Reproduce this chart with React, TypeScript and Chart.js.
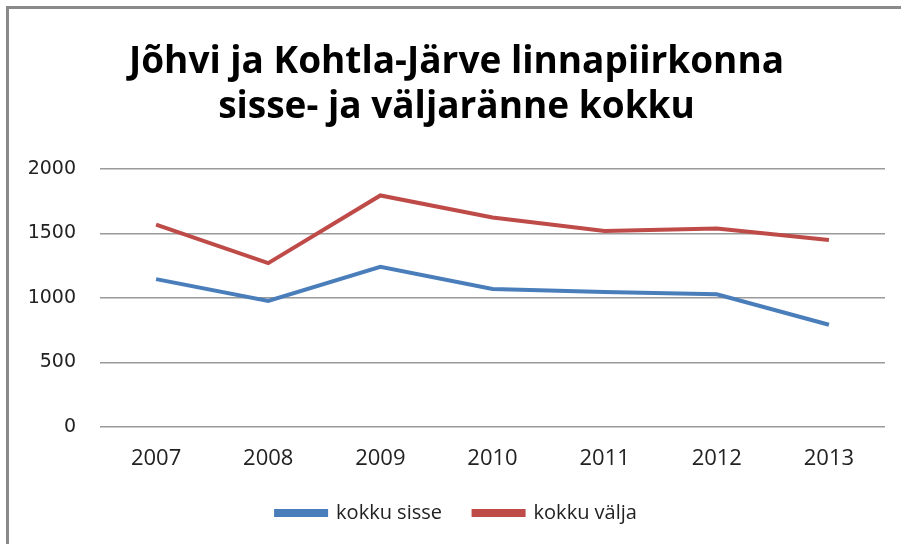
import React, { useEffect, useRef } from "react";
import { Chart, registerables } from "chart.js";

Chart.register(...registerables);

const years = ["2007", "2008", "2009", "2010", "2011", "2012", "2013"];
const kokkuSisse = [1146, 977, 1242, 1070, 1047, 1029, 793];
const kokkuValja = [1569, 1270, 1795, 1624, 1520, 1538, 1450];
const titleLines = ["Jõhvi ja Kohtla-Järve linnapiirkonna", "sisse- ja väljaränne kokku"];
const seriesNames = ["kokku sisse", "kokku välja"];

export default function App() {
  const ref = useRef<HTMLCanvasElement | null>(null);
  useEffect(() => {
    if (!ref.current) return;
    const chart = new Chart(ref.current, {
      type: "line",
      data: {
        labels: years,
        datasets: [
          {
            label: seriesNames[0],
            data: kokkuSisse,
            borderColor: "#4a7ebb",
            backgroundColor: "#4a7ebb",
            borderWidth: 4,
            pointRadius: 0,
            tension: 0,
          },
          {
            label: seriesNames[1],
            data: kokkuValja,
            borderColor: "#be4b48",
            backgroundColor: "#be4b48",
            borderWidth: 4,
            pointRadius: 0,
            tension: 0,
          },
        ],
      },
      options: {
        animation: false,
        responsive: false,
        maintainAspectRatio: false,
        layout: { padding: { left: 28, right: 16, top: 0, bottom: 11 } },
        plugins: {
          title: {
            display: true,
            text: titleLines,
            color: "#000",
            font: { family: "'Open Sans'", size: 37, weight: "bold", lineHeight: 1.216 },
            padding: { top: 39.5, bottom: 39.5 },
          },
          legend: {
            position: "bottom",
            labels: {
              boxWidth: 50,
              boxHeight: 4,
              padding: 31.6,
              color: "#222",
              font: { family: "'Open Sans'", size: 20 },
            },
          },
          tooltip: { enabled: false },
        },
        scales: {
          x: {
            offset: true,
            afterFit: (s: any) => {
              s.height = 44.4;
            },
            grid: { display: false, drawTicks: false },
            border: { display: false },
            ticks: {
              padding: 19,
              color: "#222",
              font: { family: "'Open Sans'", size: 22, lineHeight: 1.2 },
            },
          },
          y: {
            min: 0,
            max: 2000,
            afterFit: (s: any) => {
              s.width = 72;
            },
            grid: { color: "#9a9a9a", lineWidth: 1.5, drawTicks: false },
            border: { display: false },
            ticks: {
              stepSize: 500,
              padding: 24,
              color: "#222",
              font: { family: "'DejaVu Sans'", size: 19 },
              callback: (v: any) => String(v),
            },
          },
        },
      },
    });
    return () => chart.destroy();
  }, []);

  return (
    <div style={{ position: "absolute", left: 0, top: 0, width: 901, height: 544, background: "#fff", overflow: "hidden" }}>
      <div
        style={{
          position: "absolute",
          left: 6,
          top: 6,
          width: 901,
          height: 544,
          borderTop: "3px solid #8a8a8a",
          borderLeft: "3px solid #8a8a8a",
        }}
      />
      <canvas ref={ref} width={901} height={544} style={{ position: "absolute", left: 0, top: 0, width: 901, height: 544 }} />
    </div>
  );
}
